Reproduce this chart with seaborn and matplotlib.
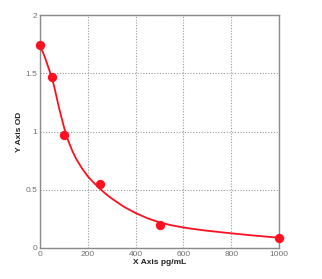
import matplotlib
matplotlib.use("Agg")
import matplotlib.pyplot as plt
import seaborn as sns
import pandas as pd

# Standard points
conc = [0, 50, 100, 250, 500, 1000]
od = [1.74, 1.47, 0.97, 0.55, 0.20, 0.088]

# Fitted curve
curve_x = [0, 10, 20, 30, 40, 50, 60, 70, 80, 90, 100, 110, 120, 135, 150, 175, 200, 225, 250,
           275, 300, 350, 400, 450, 500, 550, 600, 650, 700, 750, 800, 850, 900, 950, 1000]
curve_y = [1.74, 1.69, 1.64, 1.58, 1.52, 1.46, 1.38, 1.29, 1.20, 1.12, 1.04, 0.97, 0.91, 0.835, 0.77,
           0.685, 0.615, 0.56, 0.51, 0.465, 0.425, 0.355, 0.30, 0.255, 0.22, 0.195, 0.176, 0.161,
           0.148, 0.137, 0.126, 0.116, 0.106, 0.097, 0.088]

x_ticks = [0, 200, 400, 600, 800, 1000]
y_ticks = [0, 0.5, 1, 1.5, 2]

sns.set_style("white")
plt.rcParams['font.family'] = ['Liberation Sans', 'DejaVu Sans']

fig = plt.figure(figsize=(3.22, 2.79), dpi=100)
ax = fig.add_axes([40/322, 31/279, 239/322, 233/279])

df_c = pd.DataFrame({"x": curve_x, "y": curve_y})
df_p = pd.DataFrame({"x": conc, "y": od})

sns.lineplot(data=df_c, x="x", y="y", ax=ax, color="#ff1020", linewidth=1.3, zorder=3)
sns.scatterplot(data=df_p, x="x", y="y", ax=ax, color="#ff1020", s=45, marker="o",
                edgecolor="#ff1020", linewidth=0, zorder=4, clip_on=False)

ax.set_xlim(0, 1000)
ax.set_ylim(0, 2)
ax.set_xticks(x_ticks)
ax.set_yticks(y_ticks)
ax.set_xticklabels([str(t) for t in x_ticks])
ax.set_yticklabels(["0", "0.5", "1", "1.5", "2"])
ax.grid(True, color="#9a9a9a", linestyle=(0, (1, 1.5)), linewidth=0.8)
ax.set_axisbelow(True)
for s in ax.spines.values():
    s.set_color("#8a8a8a")
    s.set_linewidth(1.0)
ax.tick_params(axis="both", labelsize=6, colors="#707070", length=2, direction="in", pad=2)
ax.set_xlabel("X Axis pg/mL", fontsize=6, fontweight="bold", color="#222222", labelpad=1)
ax.set_ylabel("Y Axis OD", fontsize=6, fontweight="bold", color="#222222", labelpad=2)

fig.savefig("out.png", dpi=100)
